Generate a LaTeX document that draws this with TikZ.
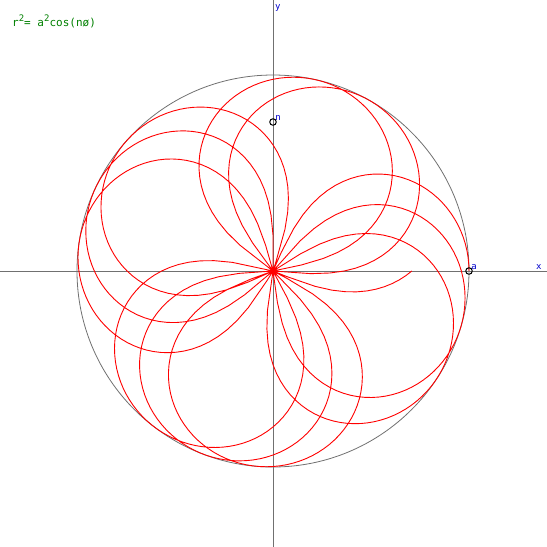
\documentclass[tikz,border=0pt]{standalone}
\usepackage{fontspec}
\setmonofont{DejaVu Sans Mono}
\usetikzlibrary{positioning}
\definecolor{axisgrey}{RGB}{112,112,112}
\definecolor{eqgreen}{RGB}{0,128,0}
\definecolor{labblue}{RGB}{0,0,204}
\newcommand{\powtwo}{\raisebox{4.5pt}{\fontsize{9}{9}\selectfont 2}}
\newcommand{\ra}{196}
\newcommand{\nn}{1.3542}

\begin{document}
\begin{tikzpicture}[x=1pt, y=-1pt,
  every node/.style={font=\ttfamily\fontsize{9}{9}\selectfont, inner sep=0pt},
  axis/.style={draw=axisgrey, line width=0.8pt},
  lbl/.style={text=labblue},
  formula/.style={text=eqgreen, font=\ttfamily\fontsize{11}{11}\selectfont, anchor=base west},
  handle/.style={circle, draw=black, line width=1pt, minimum size=6.5pt, inner sep=0pt},
  curve/.style={draw=red, line width=0.9pt, line join=round}]

\useasboundingbox (0,0) rectangle (547,547);
\coordinate (O) at (273,271);
\coordinate (xl) at (0,271);
\coordinate (xr) at (547,271);
\coordinate (yt) at (273,0);
\coordinate (yb) at (273,547);

\draw[axis] (xl) -- (xr);
\draw[axis] (yt) -- (yb);
\draw[axis] (O) circle[radius=\ra];

\draw[curve] plot[domain=0:2880, samples=1441, variable=\t]
  ({273+\ra*sqrt(max(cos(\nn*\t),0))*cos(\t)}, {271-\ra*sqrt(max(cos(\nn*\t),0))*sin(\t)});

\node[formula] (eqn) at (12,26) {r\powtwo= a\powtwo cos(nø)};
\node[lbl, anchor=base west] (xlab) at (536,269) {x};
\node[lbl, anchor=base west] (ylab) at (275,9) {y};

\node[handle] (ha) at (469,271) {};
\node[handle] (hn) at (273,122) {};
\node[lbl, above right=-1pt and -0.5pt of ha] (alab) {a};
\node[lbl, above right=-1pt and -0.5pt of hn] (nlab) {n};
\end{tikzpicture}
\end{document}
